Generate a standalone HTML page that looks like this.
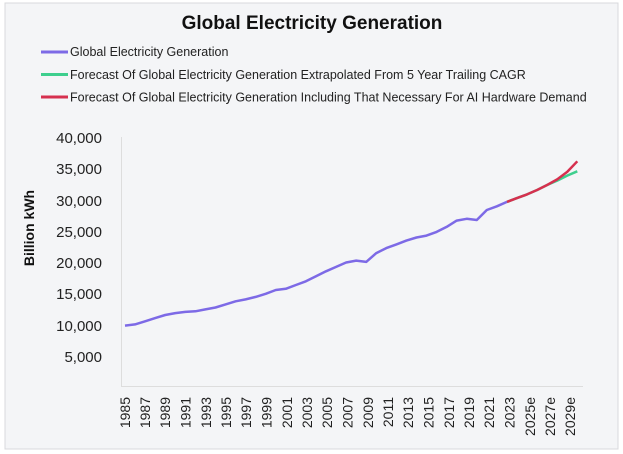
<!DOCTYPE html>
<html><head><meta charset="utf-8"><style>
html,body{margin:0;padding:0;background:#fff;}
svg{display:block;font-family:"Liberation Sans",sans-serif;}
</style></head><body>
<svg width="623" height="454" viewBox="0 0 623 454">
<rect x="5" y="3" width="613" height="446" fill="#f4f5f7" stroke="#d8d9dc" stroke-width="1"/>
<text x="312" y="29" text-anchor="middle" font-size="19" font-weight="bold" fill="#111">Global Electricity Generation</text>
<g font-size="12.5" fill="#222">
<line x1="41" y1="52" x2="68" y2="52" stroke="#7d6ae6" stroke-width="3"/>
<text x="70" y="56">Global Electricity Generation</text>
<line x1="41" y1="74.5" x2="68" y2="74.5" stroke="#3ecf8e" stroke-width="3"/>
<text x="70" y="79">Forecast Of Global Electricity Generation Extrapolated From 5 Year Trailing CAGR</text>
<line x1="41" y1="97" x2="68" y2="97" stroke="#d6304f" stroke-width="3"/>
<text x="70" y="101.5">Forecast Of Global Electricity Generation Including That Necessary For AI Hardware Demand</text>
</g>
<line x1="121.5" y1="137" x2="121.5" y2="386" stroke="#ddd" stroke-width="1"/>
<line x1="121" y1="386.5" x2="583" y2="386.5" stroke="#ddd" stroke-width="1"/>
<g font-size="15" fill="#222" text-anchor="end">
<text x="102" y="143">40,000</text>
<text x="102" y="174">35,000</text>
<text x="102" y="206">30,000</text>
<text x="102" y="237">25,000</text>
<text x="102" y="268">20,000</text>
<text x="102" y="299">15,000</text>
<text x="102" y="331">10,000</text>
<text x="102" y="362">5,000</text>
</g>
<text transform="translate(34,228) rotate(-90)" text-anchor="middle" font-size="14" font-weight="bold" fill="#111">Billion kWh</text>
<g font-size="14" fill="#222" text-anchor="end">
<text transform="translate(130,397) rotate(-90)">1985</text>
<text transform="translate(150,397) rotate(-90)">1987</text>
<text transform="translate(170,397) rotate(-90)">1989</text>
<text transform="translate(190.5,397) rotate(-90)">1991</text>
<text transform="translate(211,397) rotate(-90)">1993</text>
<text transform="translate(231,397) rotate(-90)">1995</text>
<text transform="translate(251,397) rotate(-90)">1997</text>
<text transform="translate(271.5,397) rotate(-90)">1999</text>
<text transform="translate(292,397) rotate(-90)">2001</text>
<text transform="translate(312,397) rotate(-90)">2003</text>
<text transform="translate(332,397) rotate(-90)">2005</text>
<text transform="translate(352.5,397) rotate(-90)">2007</text>
<text transform="translate(373,397) rotate(-90)">2009</text>
<text transform="translate(393,397) rotate(-90)">2011</text>
<text transform="translate(413,397) rotate(-90)">2013</text>
<text transform="translate(433.5,397) rotate(-90)">2015</text>
<text transform="translate(454,397) rotate(-90)">2017</text>
<text transform="translate(474,397) rotate(-90)">2019</text>
<text transform="translate(494,397) rotate(-90)">2021</text>
<text transform="translate(514.5,397) rotate(-90)">2023</text>
<text transform="translate(535,397) rotate(-90)">2025e</text>
<text transform="translate(555,397) rotate(-90)">2027e</text>
<text transform="translate(575,397) rotate(-90)">2029e</text>
</g>
<polyline fill="none" stroke="#3ecf8e" stroke-width="2.5" stroke-linejoin="round" points="506.9,201.9 517,198.1 527,194.4 537.1,190 547.1,185 557.2,180.6 567.2,175.6 577.3,171.3"/>
<polyline fill="none" stroke="#d6304f" stroke-width="2.5" stroke-linejoin="round" points="506.9,201.9 517,198.1 527,194.4 537.1,190 547.1,185 557.2,179.4 567.2,171.9 577.3,161.3"/>
<polyline fill="none" stroke="#7d6ae6" stroke-width="2.5" stroke-linejoin="round" points="125,325.6 135,324.4 145.1,321.3 155.2,318.1 165.2,315 175.3,313.1 185.3,311.9 195.4,311.3 205.4,309.4 215.5,307.5 225.5,304.4 235.6,301.3 245.6,299.4 255.7,296.9 265.7,293.8 275.8,290 285.8,288.8 295.9,285 305.9,281.3 316,276.3 326,271.3 336.1,266.9 346.1,262.5 356.2,260.6 366.2,261.9 376.3,253.1 386.3,248.1 396.4,244.4 406.4,240.6 416.5,237.5 426.5,235.6 436.6,231.9 446.6,226.9 456.7,220.6 466.7,218.8 476.8,220 486.8,210 496.9,206.3 506.9,201.9"/>
</svg>
</body></html>
